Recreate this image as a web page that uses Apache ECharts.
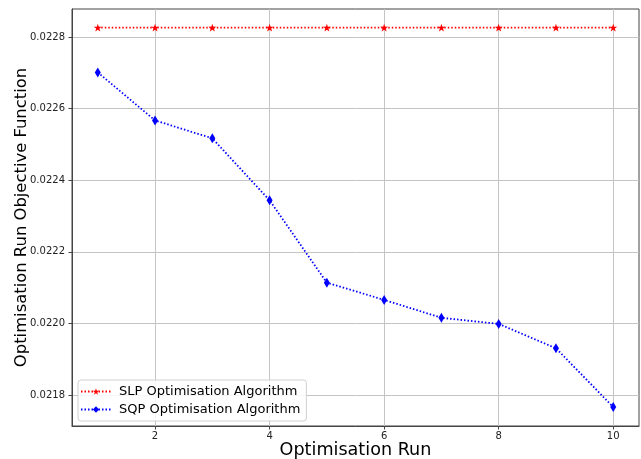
<!DOCTYPE html>
<html>
<head>
<meta charset="utf-8">
<script src="https://cdn.jsdelivr.net/npm/echarts@6/dist/echarts.min.js"></script>
<style>html,body{margin:0;padding:0;background:#fff}#c{width:641px;height:459px}</style>
</head>
<body>
<div id="c"></div>
<script>
const runs = [1, 2, 3, 4, 5, 6, 7, 8, 9, 10];
const slpValues = [0.022826, 0.022826, 0.022826, 0.022826, 0.022826, 0.022826, 0.022826, 0.022826, 0.022826, 0.022826];
const sqpValues = [0.022701, 0.022567, 0.022517, 0.022344, 0.022114, 0.022066, 0.022016, 0.021999, 0.021931, 0.021767];
const xTicks = [2, 4, 6, 8, 10];
const yTicks = [0.0218, 0.0220, 0.0222, 0.0224, 0.0226, 0.0228];
const seriesNames = ['SLP Optimisation Algorithm', 'SQP Optimisation Algorithm'];

const FONT = 'DejaVu Sans';
const star = 'path://M0,-10 L2.35,-3.24 9.51,-3.09 3.8,1.24 5.88,8.09 0,4 -5.88,8.09 -3.8,1.24 -9.51,-3.09 -2.35,-3.24Z';

const chart = echarts.init(document.getElementById('c'), null, {renderer: 'canvas'});
chart.setOption({
  animation: false,
  backgroundColor: '#fff',
  grid: {left: 72, right: 2, top: 9, bottom: 33, show: true, borderColor: '#444', borderWidth: 1,
    containLabel: false, outerBoundsMode: 'none'},
  xAxis: {
    type: 'value', min: 0.55, max: 10.45,
    name: 'Optimisation Run', nameLocation: 'middle', nameGap: 15, nameMoveOverlap: false,
    nameTextStyle: {fontFamily: FONT, fontSize: 17.6, color: '#000'},
    axisLine: {show: true, lineStyle: {color: '#444', width: 1}},
    axisTick: {show: true, inside: false, length: 3.5, customValues: xTicks, lineStyle: {color: '#444'}},
    axisLabel: {customValues: xTicks, fontFamily: FONT, fontSize: 10, color: '#222', margin: 5},
    splitLine: {show: true, lineStyle: {color: '#c4c4c4', width: 1}}
  },
  yAxis: {
    type: 'value', min: 0.021714, max: 0.022878,
    name: 'Optimisation Run Objective Function', nameLocation: 'middle', nameGap: 42, nameMoveOverlap: false,
    nameTextStyle: {fontFamily: FONT, fontSize: 16.4, color: '#000'},
    axisLine: {show: true, lineStyle: {color: '#444', width: 1}},
    axisTick: {show: true, inside: false, length: 3.5, customValues: yTicks, lineStyle: {color: '#444'}},
    axisLabel: {customValues: yTicks, fontFamily: FONT, fontSize: 10, color: '#222', margin: 7,
      formatter: v => v.toFixed(4)},
    splitLine: {show: true, lineStyle: {color: '#c4c4c4', width: 1}}
  },
  legend: {
    orient: 'vertical', left: 78, top: 380,
    itemWidth: 30, itemHeight: 8, itemGap: 5,
    padding: [5, 6, 5, 2],
    backgroundColor: 'rgba(255,255,255,0.85)', borderColor: '#d0d0d0', borderWidth: 1, borderRadius: 3,
    textStyle: {fontFamily: FONT, fontSize: 13, color: '#000', padding: [0, 0, 0, 3]},
    data: seriesNames
  },
  series: [
    {
      name: seriesNames[0], type: 'line',
      data: runs.map((r, i) => [r, slpValues[i]]),
      symbol: star, symbolSize: 8, symbolKeepAspect: true,
      itemStyle: {color: '#ff0000'},
      lineStyle: {color: '#ff0000', width: 1.8, type: [1.5, 2], cap: 'butt'},
      z: 3
    },
    {
      name: seriesNames[1], type: 'line',
      data: runs.map((r, i) => [r, sqpValues[i]]),
      symbol: 'diamond', symbolSize: [6, 10],
      itemStyle: {color: '#0000ff'},
      lineStyle: {color: '#0000ff', width: 1.8, type: [1.5, 2], cap: 'butt'},
      z: 3
    }
  ]
});
</script>
</body>
</html>
